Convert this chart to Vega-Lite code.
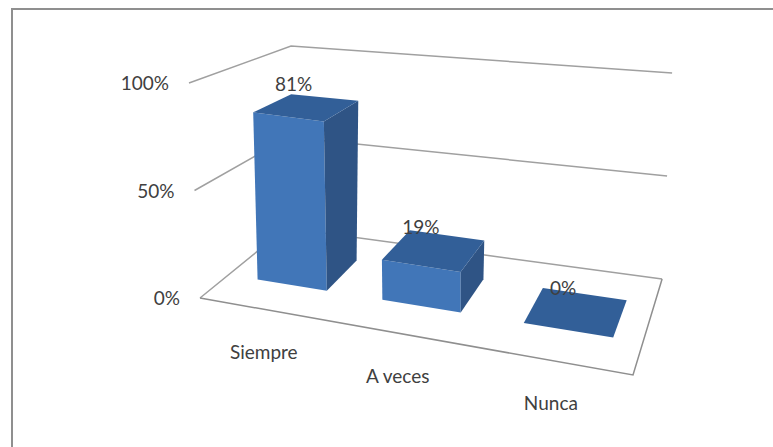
{
"$schema":"https://vega.github.io/schema/vega-lite/v6.json",
"width":770,"height":445,
"padding":{"left":12,"top":9,"right":0,"bottom":0},
"autosize":{"type":"none"},
"background":"white",
"view":{"stroke":"#8f8f8f","strokeWidth":2,"fill":"white"},
"datasets":{
"bars":[{"categoria":"Siempre","orden":0,"porcentaje":81},{"categoria":"A veces","orden":1,"porcentaje":19},{"categoria":"Nunca","orden":2,"porcentaje":0}],
"ticks":[{"nivel":0,"etiqueta":"0%"},{"nivel":50,"etiqueta":"50%"},{"nivel":100,"etiqueta":"100%"}],
"piso":[{"nivel":0}]
},
"layer":[
{"data":{"name":"ticks"},
 "transform":[
  {"fold":["a","b","c"],"as":["k","_"]},
  {"calculate":"datum.k=='c'?1:0","as":"u"},
  {"calculate":"datum.k=='a'?0:1","as":"v"},
  {"calculate":"datum.nivel","as":"h"},
  {"calculate":"1-0.1828*datum.u+0.1656*datum.v","as":"w"},
  {"calculate":"(317.3*datum.u+133.4*datum.v+200)/datum.w+datum.h/100*((1-datum.u)*(-11*(1-datum.v)+5*datum.v)+datum.u*(0*(1-datum.v)+10*datum.v))","as":"sx"},
  {"calculate":"(8.45*datum.u-32.2*datum.v+298)/datum.w+datum.h/100*((1-datum.u)*(-215*(1-datum.v)-182*datum.v)+datum.u*(-225*(1-datum.v)-206*datum.v))","as":"sy"}
 ],
 "mark":{"type":"line","color":"#a0a0a0","strokeWidth":1.5},
 "encoding":{
  "x":{"field":"sx","type":"quantitative","scale":{"domain":[12,782],"nice":false,"zero":false},"axis":null},
  "y":{"field":"sy","type":"quantitative","scale":{"domain":[454,9],"nice":false,"zero":false},"axis":null},
  "detail":{"field":"nivel"},
  "order":{"field":"k"}
 }},
{"data":{"name":"piso"},
 "transform":[
  {"fold":["a","b","c"],"as":["k","_"]},
  {"calculate":"datum.k=='a'?0:1","as":"u"},
  {"calculate":"datum.k=='c'?1:0","as":"v"},
  {"calculate":"1-0.1828*datum.u+0.1656*datum.v","as":"w"},
  {"calculate":"(317.3*datum.u+133.4*datum.v+200)/datum.w","as":"sx"},
  {"calculate":"(8.45*datum.u-32.2*datum.v+298)/datum.w","as":"sy"}
 ],
 "mark":{"type":"line","color":"#8f8f8f","strokeWidth":1.5},
 "encoding":{
  "x":{"field":"sx","type":"quantitative"},
  "y":{"field":"sy","type":"quantitative"},
  "order":{"field":"k"}
 }},
{"data":{"name":"bars"},
 "transform":[
  {"fold":["f1","f2","f3","f4","s1","s2","s3","s4","t1","t2","t3","t4"],"as":["k","_"]},
  {"calculate":"({f1:[0,0,0],f2:[1,0,0],f3:[1,0,1],f4:[0,0,1],s1:[1,0,0],s2:[1,1,0],s3:[1,1,1],s4:[1,0,1],t1:[0,0,1],t2:[1,0,1],t3:[1,1,1],t4:[0,1,1]})[datum.k]","as":"c"},
  {"calculate":"substring(datum.k,0,1)","as":"cara"},
  {"calculate":"(datum.orden+0.25+0.57*datum.c[0])/3","as":"u"},
  {"calculate":"0.3+0.4*datum.c[1]","as":"v"},
  {"calculate":"datum.porcentaje*datum.c[2]","as":"h"},
  {"calculate":"1-0.1828*datum.u+0.1656*datum.v","as":"w"},
  {"calculate":"(317.3*datum.u+133.4*datum.v+200)/datum.w+datum.h/100*((1-datum.u)*(-11*(1-datum.v)+5*datum.v)+datum.u*(0*(1-datum.v)+10*datum.v))","as":"sx"},
  {"calculate":"(8.45*datum.u-32.2*datum.v+298)/datum.w+datum.h/100*((1-datum.u)*(-215*(1-datum.v)-182*datum.v)+datum.u*(-225*(1-datum.v)-206*datum.v))","as":"sy"}
 ],
 "mark":{"type":"line","filled":true,"strokeWidth":0},
 "encoding":{
  "x":{"field":"sx","type":"quantitative"},
  "y":{"field":"sy","type":"quantitative"},
  "color":{"field":"cara","type":"nominal","legend":null,"scale":{"domain":["f","s","t"],"range":["#4176b8","#2f5485","#325f98"]}},
  "detail":{"field":"categoria"},
  "order":{"field":"k"}
 }},
{"data":{"name":"ticks"},
 "transform":[
  {"calculate":"200+datum.nivel/100*-11","as":"sx"},
  {"calculate":"298+datum.nivel/100*-215","as":"sy"}
 ],
 "mark":{"type":"text","align":"right","baseline":"middle","font":"Lato","fontSize":19,"color":"#404040","xOffset":-20,"yOffset":1},
 "encoding":{
  "x":{"field":"sx","type":"quantitative"},
  "y":{"field":"sy","type":"quantitative"},
  "text":{"field":"etiqueta"}
 }},
{"data":{"name":"bars"},
 "transform":[
  {"calculate":"(datum.orden+0.5)/3","as":"u"},
  {"calculate":"1-0.1828*datum.u","as":"w"},
  {"calculate":"(317.3*datum.u+200)/datum.w","as":"sx"},
  {"calculate":"(8.45*datum.u+298)/datum.w","as":"sy"}
 ],
 "mark":{"type":"text","align":"center","baseline":"middle","font":"Lato","fontSize":19,"color":"#404040","xOffset":3,"yOffset":44},
 "encoding":{
  "x":{"field":"sx","type":"quantitative"},
  "y":{"field":"sy","type":"quantitative"},
  "text":{"field":"categoria"}
 }},
{"data":{"name":"bars"},
 "transform":[
  {"calculate":"(datum.orden+0.535)/3","as":"u"},
  {"calculate":"0.5","as":"v"},
  {"calculate":"datum.porcentaje","as":"h"},
  {"calculate":"1-0.1828*datum.u+0.1656*datum.v","as":"w"},
  {"calculate":"(317.3*datum.u+133.4*datum.v+200)/datum.w+datum.h/100*((1-datum.u)*(-11*(1-datum.v)+5*datum.v)+datum.u*(0*(1-datum.v)+10*datum.v))","as":"sx"},
  {"calculate":"(8.45*datum.u-32.2*datum.v+298)/datum.w+datum.h/100*((1-datum.u)*(-215*(1-datum.v)-182*datum.v)+datum.u*(-225*(1-datum.v)-206*datum.v))","as":"sy"},
  {"calculate":"datum.porcentaje+'%'","as":"rotulo"}
 ],
 "mark":{"type":"text","align":"center","baseline":"middle","font":"Lato","fontSize":19,"color":"#404040","xOffset":-13,"yOffset":-22},
 "encoding":{
  "x":{"field":"sx","type":"quantitative"},
  "y":{"field":"sy","type":"quantitative"},
  "text":{"field":"rotulo"}
 }}
],
"config":{"axis":{"grid":false}}
}
